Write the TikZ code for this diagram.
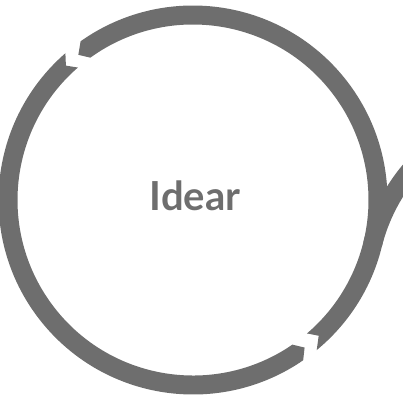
\documentclass[tikz,border=0pt]{standalone}
\usepackage{fontspec}
\newfontfamily\idearfont{Lato}
\usetikzlibrary{positioning}
\definecolor{ringgray}{RGB}{110,110,110}

\begin{document}
\begin{tikzpicture}[
            x=1pt, y=1pt,
            ring/.style={fill=ringgray},
            lbl/.style={font=\idearfont\bfseries\fontsize{40}{48}\selectfont, text=ringgray, inner sep=0pt},
        ]
            % Frame of the picture, everything outside is cut away
            \path[use as bounding box, clip] (0,0) rectangle (403,400);

            \coordinate (ctr) at (193,200);
            \coordinate (nbr) at (552,110.5);

            % Right and top of the ring, notch below and tip at the top left
            \fill[ring, shift={(ctr)}] (-50.5:194.5) arc[start angle=-50.5, end angle=125.3, radius=194.5]
                -- (128.3:185) -- (125.8:175.5) arc[start angle=125.8, end angle=-49.5, radius=175.5]
                -- (-47.2:185) -- cycle;

            % Left and bottom of the ring
            \fill[ring, shift={(ctr)}] (131:194.5) arc[start angle=131, end angle=304.5, radius=194.5]
                -- (307.1:185) -- (304.5:175.5) arc[start angle=304.5, end angle=131, radius=175.5]
                -- (133.4:185) -- cycle;

            % Start of the next ring on the right
            \fill[ring, shift={(nbr)}] (166:194.5) arc[start angle=166, end angle=120, radius=194.5]
                -- (120:175.5) arc[start angle=120, end angle=166, radius=175.5] -- cycle;

            \node[lbl, anchor=base] (idear) at (195,190) {Idear};
        \end{tikzpicture}
\end{document}
